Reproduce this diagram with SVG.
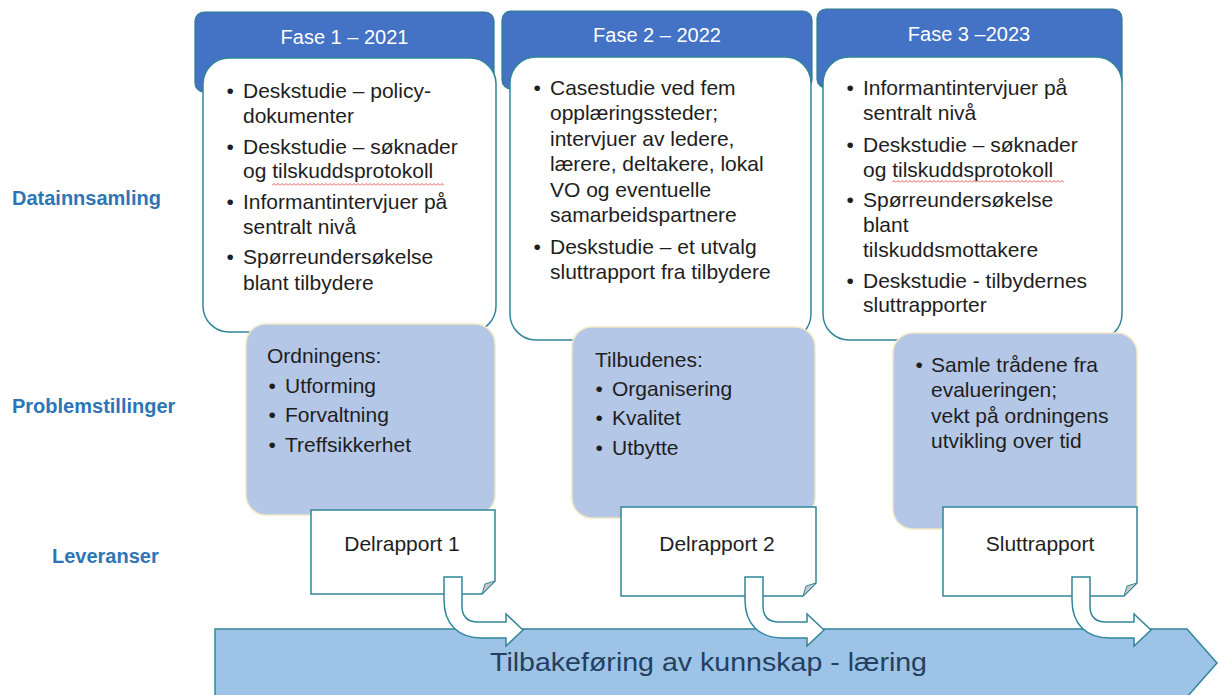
<svg xmlns="http://www.w3.org/2000/svg" width="1218" height="695" viewBox="0 0 1218 695">
<style>
text{font-family:"Liberation Sans",Arial,sans-serif;}
.hdr{fill:#4472C4;stroke:#2E7D8C;stroke-width:1.2;}
.hdrt{fill:#FFFFFF;font-size:20px;text-anchor:middle;}
.wbox{fill:#FFFFFF;stroke:#31869B;stroke-width:1.5;}
.pbox{fill:#B4C7E7;stroke:#F2E8C8;stroke-width:1.5;}
.doc{fill:#FFFFFF;stroke:#31869B;stroke-width:1.5;}
.fold{fill:#C8C8C8;stroke:#31869B;stroke-width:1;}
.t{fill:#1E1E1E;font-size:21px;}
.dt{fill:#1E1E1E;font-size:21px;text-anchor:middle;}
.lbl{fill:#2E75B6;font-size:20px;font-weight:bold;}
.big{fill:#9DC3E6;stroke:#31869B;stroke-width:1.5;}
.bigt{fill:#243F60;font-size:26px;text-anchor:middle;}
.bent{fill:#FFFFFF;stroke:#31869B;stroke-width:1.5;stroke-linejoin:miter;}
</style>
<defs>
<pattern id="squiggle" width="4" height="3" patternUnits="userSpaceOnUse">
<path d="M0,2.5 L2,0.5 L4,2.5" fill="none" stroke="#E03030" stroke-width="0.8"/>
</pattern>
</defs>
<rect width="1218" height="695" fill="#FFFFFF"/>

<g id="labels">
<text class="lbl" x="12" y="205">Datainnsamling</text>
<text class="lbl" x="12" y="413">Problemstillinger</text>
<text class="lbl" x="52" y="563">Leveranser</text>
</g>

<g id="fase1">
<rect class="hdr" x="195" y="12" width="299" height="80" rx="9"/>
<text class="hdrt" x="344.5" y="44">Fase 1 – 2021</text>
<rect class="wbox" x="203" y="58" width="293" height="274" rx="26"/>
<g class="t">
<text x="226.5" y="98">•</text><text x="243" y="98">Deskstudie – policy-</text>
<text x="243" y="123">dokumenter</text>
<text x="226.5" y="154">•</text><text x="243" y="154">Deskstudie – søknader</text>
<text x="243" y="178">og tilskuddsprotokoll</text>
<text x="226.5" y="209">•</text><text x="243" y="209">Informantintervjuer på</text>
<text x="243" y="234">sentralt nivå</text>
<text x="226.5" y="264">•</text><text x="243" y="264">Spørreundersøkelse</text>
<text x="243" y="290">blant tilbydere</text>
</g>
<rect x="272" y="183" width="172" height="3" fill="url(#squiggle)"/>
</g>

<g id="fase2">
<rect class="hdr" x="502" y="11" width="310" height="78" rx="9"/>
<text class="hdrt" x="657" y="42">Fase 2 – 2022</text>
<rect class="wbox" x="510" y="57" width="301" height="283" rx="26"/>
<g class="t">
<text x="533.5" y="95">•</text><text x="550" y="95">Casestudie ved fem</text>
<text x="550" y="120">opplæringssteder;</text>
<text x="550" y="146">intervjuer av ledere,</text>
<text x="550" y="171">lærere, deltakere, lokal</text>
<text x="550" y="197">VO og eventuelle</text>
<text x="550" y="222">samarbeidspartnere</text>
<text x="533.5" y="254">•</text><text x="550" y="254">Deskstudie – et utvalg</text>
<text x="550" y="279">sluttrapport fra tilbydere</text>
</g>
</g>

<g id="fase3">
<rect class="hdr" x="817" y="9" width="305" height="79" rx="9"/>
<text class="hdrt" x="969" y="41">Fase 3 –2023</text>
<rect class="wbox" x="823" y="57" width="299" height="283" rx="26"/>
<g class="t">
<text x="846.5" y="95">•</text><text x="863" y="95">Informantintervjuer på</text>
<text x="863" y="120">sentralt nivå</text>
<text x="846.5" y="152">•</text><text x="863" y="152">Deskstudie – søknader</text>
<text x="863" y="177">og tilskuddsprotokoll</text>
<text x="846.5" y="207">•</text><text x="863" y="207">Spørreundersøkelse</text>
<text x="863" y="232">blant</text>
<text x="863" y="257">tilskuddsmottakere</text>
<text x="846.5" y="288">•</text><text x="863" y="288">Deskstudie - tilbydernes</text>
<text x="863" y="312">sluttrapporter</text>
</g>
<rect x="892" y="180" width="172" height="3" fill="url(#squiggle)"/>
</g>

<g id="problem1">
<rect class="pbox" x="246" y="324" width="249" height="191" rx="20"/>
<g class="t">
<text x="267" y="363">Ordningens:</text>
<text x="268.5" y="393">•</text><text x="285" y="393">Utforming</text>
<text x="268.5" y="422">•</text><text x="285" y="422">Forvaltning</text>
<text x="268.5" y="452">•</text><text x="285" y="452">Treffsikkerhet</text>
</g>
</g>

<g id="problem2">
<rect class="pbox" x="572" y="327" width="243" height="191" rx="20"/>
<g class="t">
<text x="595" y="367">Tilbudenes:</text>
<text x="595.5" y="396">•</text><text x="612" y="396">Organisering</text>
<text x="595.5" y="425">•</text><text x="612" y="425">Kvalitet</text>
<text x="595.5" y="455">•</text><text x="612" y="455">Utbytte</text>
</g>
</g>

<g id="problem3">
<rect class="pbox" x="893" y="333" width="244" height="196" rx="20"/>
<g class="t">
<text x="915.5" y="372">•</text><text x="931" y="372">Samle trådene fra</text>
<text x="931" y="397">evalueringen;</text>
<text x="931" y="423">vekt på ordningens</text>
<text x="931" y="448">utvikling over tid</text>
</g>
</g>

<g id="delrapport1">
<path class="doc" d="M311,510 H495 V581 L482,594 H311 Z"/>
<path class="fold" d="M495,581 L482,594 L485,584 Z"/>
<text class="dt" x="402" y="551">Delrapport 1</text>
</g>

<g id="delrapport2">
<path class="doc" d="M621,507 H816 V583 L803,596 H621 Z"/>
<path class="fold" d="M816,583 L803,596 L806,586 Z"/>
<text class="dt" x="717" y="551">Delrapport 2</text>
</g>

<g id="sluttrapport">
<path class="doc" d="M943,507 H1137 V583 L1124,596 H943 Z"/>
<path class="fold" d="M1137,583 L1124,596 L1127,586 Z"/>
<text class="dt" x="1040" y="551">Sluttrapport</text>
</g>

<g id="tilbakeforing">
<path class="big" d="M215,629 H1187 L1217,663 L1187,697 H215 Z"/>
<text class="bigt" x="708.5" y="671" textLength="437" lengthAdjust="spacingAndGlyphs">Tilbakeføring av kunnskap - læring</text>
</g>

<g id="connectors">
<path class="bent" d="M444,577 H462 V606 Q462,622 478,622 H506 V614 L523,630 L506,646 V638 H482 C458,638 444,624 444,600 Z"/>
<path class="bent" d="M745,577 H763 V606 Q763,622 779,622 H807 V614 L824,630 L807,646 V638 H783 C759,638 745,624 745,600 Z"/>
<path class="bent" d="M1072,577 H1090 V606 Q1090,622 1106,622 H1134 V614 L1151,630 L1134,646 V638 H1110 C1086,638 1072,624 1072,600 Z"/>
</g>
</svg>
